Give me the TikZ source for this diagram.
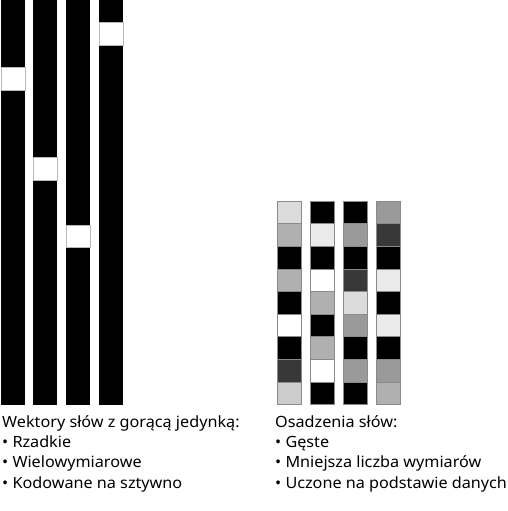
\documentclass[tikz,border=0pt]{standalone}
\usepackage{fontspec}
\setmainfont{Noto Sans}[FakeStretch=1.045]
\definecolor{cA}{HTML}{000000}
\definecolor{cW}{HTML}{FFFFFF}
\definecolor{cL}{HTML}{EAEAEA}
\definecolor{cK}{HTML}{DCDCDC}
\definecolor{cJ}{HTML}{CCCCCC}
\definecolor{cM}{HTML}{B0B0B0}
\definecolor{cN}{HTML}{9A9A9A}
\definecolor{cD}{HTML}{383838}
\definecolor{edge}{HTML}{8A8A8A}
\begin{document}
\begin{tikzpicture}[x=1pt,y=-1pt,
  label/.style={anchor=base west,inner sep=0pt,font=\fontsize{15.5}{18}\selectfont},
  hot/.style={fill=black},
  cellbox/.style={draw=edge,line width=0.6pt}]
\useasboundingbox (0,0) rectangle (508,511);
% one-hot bars
\foreach \x/\k [count=\i] in {1/3,33/7,66/10,99/1}{
  \fill[hot] (\x,0) rectangle ++(24,405);
  \filldraw[fill=white,draw=edge!60,line width=0.4pt] (\x,\k*22.5) rectangle ++(24,22.5);
}
% embeddings
\foreach \x/\cols in {277.5/{cK,cM,cA,cM,cA,cW,cA,cD,cJ},
                      310.5/{cA,cL,cA,cW,cM,cA,cM,cW,cA},
                      343.5/{cA,cN,cA,cD,cK,cN,cA,cN,cA},
                      376.5/{cN,cD,cA,cL,cA,cL,cA,cN,cM}}{
  \foreach \c [count=\j from 0] in \cols {
    \filldraw[cellbox,fill=\c] (\x,201+\j*22.6) rectangle ++(24,22.6);
  }
}
% labels
\node[label] (l1) at (2,427) {Wektory słów z gorącą jedynką:};
\node[label] (l2) at (2,447.5) {• Rzadkie};
\node[label] (l3) at (2,467.5) {• Wielowymiarowe};
\node[label] (l4) at (2,488) {• Kodowane na sztywno};
\node[label] (r1) at (275,427) {Osadzenia słów:};
\node[label] (r2) at (275,447.5) {• Gęste};
\node[label] (r3) at (275,467.5) {• Mniejsza liczba wymiarów};
\node[label] (r4) at (275,488) {• Uczone na podstawie danych};
\end{tikzpicture}
\end{document}
